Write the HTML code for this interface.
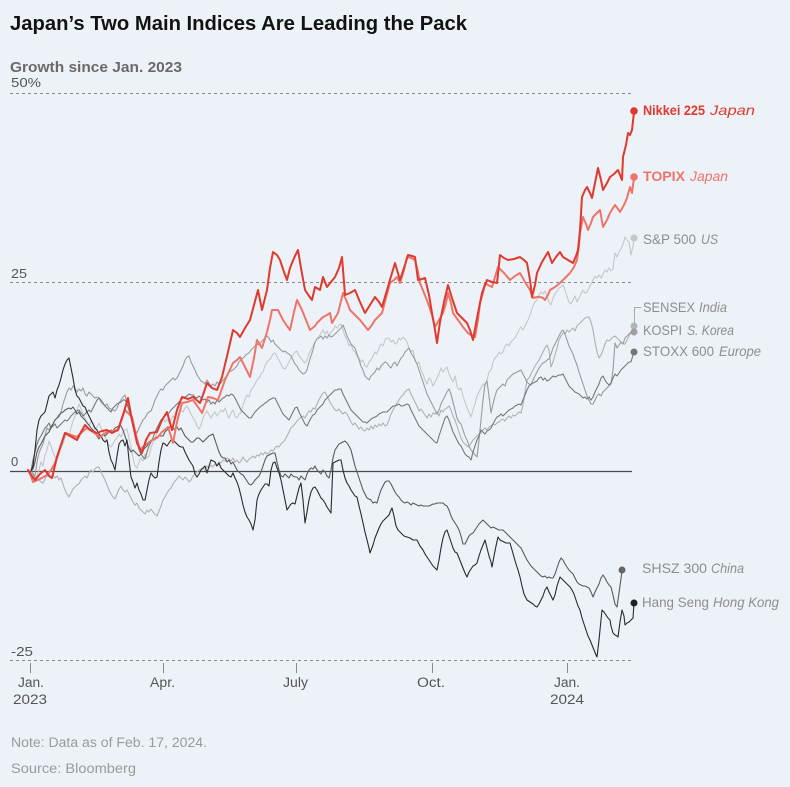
<!DOCTYPE html>
<html>
<head>
<meta charset="utf-8">
<style>
  html, body { margin: 0; padding: 0; background: #edf2f8; }
  svg { display: block; }
  text { font-family: "Liberation Sans", "DejaVu Sans", sans-serif; }
</style>
</head>
<body>
<svg width="790" height="787" viewBox="0 0 790 787" xmlns="http://www.w3.org/2000/svg">
  <rect x="0" y="0" width="790" height="787" fill="#edf2f8"/>

  <!-- Title / subtitle -->
  <text x="10" y="30" font-size="20" font-weight="bold" fill="#121212" textLength="457" lengthAdjust="spacingAndGlyphs">Japan’s Two Main Indices Are Leading the Pack</text>
  <text x="10" y="72" font-size="15" font-weight="bold" fill="#6a6a6a" textLength="172" lengthAdjust="spacingAndGlyphs">Growth since Jan. 2023</text>
  <text x="11" y="87" font-size="13" fill="#555" textLength="30" lengthAdjust="spacingAndGlyphs">50%</text>

  <!-- gridlines -->
  <g stroke="#8a8a8a" stroke-width="1" stroke-dasharray="3 3" fill="none">
    <line x1="10" y1="93.5" x2="632" y2="93.5"/>
    <line x1="10" y1="282.5" x2="632" y2="282.5"/>
    <line x1="10" y1="660.5" x2="632" y2="660.5"/>
  </g>
  <line x1="10" y1="471.5" x2="632" y2="471.5" stroke="#4a4a4a" stroke-width="1.2"/>

  <!-- y labels -->
  <text x="11" y="278" font-size="13" fill="#555" textLength="16" lengthAdjust="spacingAndGlyphs">25</text>
  <text x="11" y="466" font-size="13" fill="#555">0</text>
  <text x="11" y="656" font-size="13" fill="#555" textLength="22" lengthAdjust="spacingAndGlyphs">-25</text>

  <!-- x ticks -->
  <g stroke="#8a8a8a" stroke-width="1">
    <line x1="30.5" y1="663" x2="30.5" y2="673"/>
    <line x1="163.5" y1="663" x2="163.5" y2="673"/>
    <line x1="296.5" y1="663" x2="296.5" y2="673"/>
    <line x1="432.5" y1="663" x2="432.5" y2="673"/>
    <line x1="567.5" y1="663" x2="567.5" y2="673"/>
  </g>
  <g font-size="13.5" fill="#555">
    <text x="18" y="687" textLength="26" lengthAdjust="spacingAndGlyphs">Jan.</text>
    <text x="13" y="704" textLength="34" lengthAdjust="spacingAndGlyphs">2023</text>
    <text x="150" y="687" textLength="25" lengthAdjust="spacingAndGlyphs">Apr.</text>
    <text x="283" y="687" textLength="25" lengthAdjust="spacingAndGlyphs">July</text>
    <text x="417" y="687" textLength="28" lengthAdjust="spacingAndGlyphs">Oct.</text>
    <text x="554" y="687" textLength="26" lengthAdjust="spacingAndGlyphs">Jan.</text>
    <text x="550" y="704" textLength="34" lengthAdjust="spacingAndGlyphs">2024</text>
  </g>

  <!-- Notes -->
  <text x="11" y="747" font-size="13.5" fill="#9a9a9a" textLength="196" lengthAdjust="spacingAndGlyphs">Note: Data as of Feb. 17, 2024.</text>
  <text x="11" y="773" font-size="13.5" fill="#9a9a9a" textLength="125" lengthAdjust="spacingAndGlyphs">Source: Bloomberg</text>

  <g fill="none" stroke-linejoin="round" stroke-linecap="round">
    <!-- S&P 500 -->
    <polyline stroke="#c6c6c6" stroke-width="1.1" points="31,471 33,473 35,478 37,476 39,470 41,462 43,466 45,455 47,450 49,441 51,446 53,452 55,457 57,460 59,455 61,448 63,444 65,438 67,432 69,436 71,428 73,421 75,416 77,410 79,404 81,409 83,414 85,418 87,422 89,426 91,421 93,424 95,430 97,427 99,423 101,428 103,432 105,437 107,441 109,445 111,447 113,444 115,440 117,438 119,434 121,437 123,432 125,430 127,429 129,438 131,447 133,458 135,466 137,468 139,462 141,458 143,461 145,454 147,458 149,456 151,448 153,442 155,440 157,432 159,425 161,420 163,418 165,422 167,419 169,423 171,420 173,416 175,418 177,418 179,413 181,410 183,412 185,408 187,406 189,410 191,414 193,418 195,421 197,426 199,429 201,425 203,418 205,414 207,411 209,415 211,418 213,414 215,412 217,416 219,413 221,410 223,412 225,408 227,414 229,418 231,413 233,410 235,416 237,418 239,414 241,413 243,405 245,400 247,395 249,397 251,390 253,388 255,384 257,380 259,378 261,374 263,372 265,366 267,362 269,360 271,358 273,354 275,353 277,357 279,360 281,364 283,368 285,369 287,366 289,362 291,358 293,355 295,352 297,351 299,356 301,358 303,361 305,363 307,360 309,354 311,350 313,346 315,342 317,339 319,336 321,333 323,330 325,334 327,331 329,336 331,332 333,330 335,326 337,328 339,325 341,324 343,330 345,336 347,340 349,346 351,344 353,350 355,352 357,356 359,358 361,362 363,360 365,366 367,367 369,362 371,360 373,356 375,352 377,354 379,348 381,344 383,346 385,340 387,338 389,338 391,342 393,340 395,344 397,343 399,338 401,340 403,337 405,339 407,342 409,348 411,352 413,350 415,360 417,364 419,362 421,370 423,374 425,380 427,384 429,378 431,380 433,386 435,382 437,378 439,374 441,368 443,372 445,369 447,367 449,374 451,378 453,382 455,376 457,386 459,390 461,388 463,396 465,402 467,408 469,412 471,417 473,410 475,404 477,396 479,392 481,388 483,384 485,386 487,380 489,372 491,370 493,362 495,358 497,356 499,352 501,354 503,352 505,346 507,344 509,346 511,342 513,340 515,338 517,334 519,330 521,327 523,330 525,326 527,322 529,318 531,312 533,306 535,302 537,300 539,295 541,292 543,294 545,291 547,296 549,302 551,305 553,298 555,294 557,291 559,288 561,287 563,285 565,290 567,296 569,302 571,304 573,300 575,296 577,302 579,298 581,294 583,290 585,293 587,292 589,288 591,284 593,280 595,276 597,278 599,275 601,278 603,274 605,270 607,272 609,268 611,271 613,269 615,253 617,257 619,252 621,249 623,244 625,237 627,240 629,242 631,255 633,246 634,238"/>

    <!-- SENSEX -->
    <polyline stroke="#b0b0b0" stroke-width="1.1" points="31,471 33,474 35,478 37,476 39,480 41,482 43,483 45,479 47,476 49,474 51,477 53,475 55,478 57,476 59,480 61,478 63,484 65,490 67,494 69,497 71,493 73,489 75,487 77,485 79,484 81,480 83,478 85,476 87,478 89,473 91,470 93,472 95,469 97,467 99,467 101,472 103,476 105,480 107,485 109,490 111,494 113,497 115,499 117,494 119,489 121,486 123,490 125,492 127,490 129,494 131,498 133,502 135,505 137,503 139,508 141,510 143,512 145,514 147,510 149,512 151,509 153,512 155,514 157,516 159,511 161,506 163,500 165,497 167,493 169,490 171,488 173,484 175,481 177,479 179,476 181,478 183,480 185,477 187,479 189,482 191,480 193,476 195,474 197,472 199,470 201,469 203,468 205,470 207,466 209,468 211,465 213,467 215,464 217,466 219,462 221,463 223,460 225,461 227,458 229,459 231,461 233,458 235,462 237,460 239,463 241,461 243,457 245,460 247,462 249,459 251,458 253,456 255,458 257,455 259,456 261,453 263,455 265,452 267,454 269,453 271,450 273,451 275,448 277,446 279,447 281,444 283,442 285,440 287,436 289,432 291,428 293,426 295,424 297,421 299,419 301,417 303,416 305,418 307,414 309,411 311,412 313,408 315,409 317,404 319,400 321,396 323,393 325,392 327,396 329,400 331,404 333,407 335,410 337,411 339,409 341,412 343,414 345,412 347,414 349,418 351,422 353,425 355,423 357,426 359,429 361,427 363,430 365,431 367,428 369,430 371,426 373,429 375,425 377,427 379,424 381,426 383,423 385,426 387,425 389,420 391,414 393,410 395,406 397,403 399,400 401,397 403,395 405,392 407,390 409,389 411,394 413,398 415,402 417,406 419,411 421,409 423,412 425,415 427,418 429,414 431,417 433,413 435,414 437,412 439,416 441,410 443,412 445,409 447,408 449,406 451,410 453,416 455,420 457,426 459,432 461,438 463,442 465,444 467,446 469,447 471,443 473,440 475,438 477,436 479,434 481,433 483,430 485,428 487,430 489,427 491,426 493,424 495,425 497,423 499,422 501,420 503,419 505,421 507,418 509,416 511,418 513,415 515,416 517,414 519,412 521,413 523,405 525,392 527,380 529,378 531,374 533,370 535,366 537,363 539,360 541,356 543,352 545,348 547,345 549,350 551,367 553,362 555,355 557,348 559,340 561,336 563,333 565,334 567,330 569,332 571,330 573,328 575,331 577,326 579,324 581,322 583,320 585,318 587,317 589,317 591,322 593,330 595,342 597,352 599,358 601,355 603,350 605,344 607,340 609,341 611,339 613,337 615,336 617,338 619,340 621,342 623,344 625,344 627,340 629,336 631,332 634,326"/>

    <!-- KOSPI -->
    <polyline stroke="#9a9a9a" stroke-width="1.1" points="31,471 33,474 35,476 37,462 39,453 41,448 43,444 45,436 47,428 49,430 51,426 53,424 55,420 57,418 59,417 61,412 63,404 65,398 67,392 69,388 71,390 73,386 75,388 77,392 79,389 81,391 83,388 85,394 87,396 89,392 91,394 93,396 95,398 97,397 99,398 101,402 103,404 105,406 107,404 109,408 111,409 113,410 115,411 117,408 119,403 121,400 123,397 125,395 127,402 129,410 131,418 133,424 135,430 137,433 139,428 141,424 143,420 145,418 147,414 149,412 151,411 153,406 155,400 157,396 159,392 161,389 163,390 165,386 167,384 169,382 171,380 173,378 175,380 177,378 179,374 181,370 183,366 185,360 187,357 189,356 191,362 193,366 195,370 197,375 199,378 201,381 203,382 205,384 207,380 209,383 211,386 213,384 215,386 217,382 219,384 221,383 223,380 225,378 227,376 229,372 231,371 233,370 235,368 237,366 239,362 241,360 243,358 245,356 247,354 249,353 251,350 253,348 255,346 257,344 259,345 261,342 263,340 265,338 267,336 269,338 271,342 273,340 275,344 277,346 279,348 281,350 283,352 285,351 287,353 289,354 291,356 293,360 295,364 297,366 299,370 301,372 303,374 305,373 307,370 309,362 311,356 313,350 315,342 317,339 319,338 321,336 323,339 325,336 327,338 329,335 331,337 333,336 335,334 337,332 339,330 341,328 343,325 345,330 347,336 349,340 351,344 353,346 355,348 357,354 359,360 361,366 363,370 365,376 367,378 369,380 371,376 373,374 375,372 377,368 379,370 381,366 383,364 385,362 387,363 389,366 391,368 393,364 395,362 397,366 399,362 401,358 403,356 405,352 407,350 409,348 411,353 413,356 415,360 417,364 419,370 421,376 423,382 425,388 427,394 429,398 431,402 433,406 435,410 437,414 439,410 441,404 443,400 445,396 447,392 449,389 451,394 453,402 455,410 457,418 459,422 461,424 463,430 465,436 467,440 469,446 471,450 473,452 475,455 477,457 479,440 481,420 483,400 485,384 487,381 489,396 491,413 493,404 495,396 497,390 499,388 501,386 503,384 505,386 507,380 509,378 511,376 513,374 515,373 517,372 519,371 521,370 523,374 525,378 527,382 529,384 531,385 533,380 535,376 537,372 539,368 541,365 543,363 545,362 547,360 549,359 551,354 553,348 555,344 557,340 559,336 561,332 563,330 565,334 567,340 569,346 571,350 573,354 575,360 577,365 579,372 581,378 583,384 585,390 587,396 589,400 591,404 593,404 595,400 597,396 599,394 601,396 603,392 605,390 607,388 609,386 611,384 613,370 615,343 617,348 619,345 621,342 623,344 625,338 627,336 629,334 631,332 634,332"/>

    <!-- STOXX 600 -->
    <polyline stroke="#777" stroke-width="1.1" points="31,471 33,460 35,452 37,444 39,439 41,436 43,432 45,428 47,426 49,423 51,428 53,426 55,424 57,428 59,426 61,424 63,422 65,420 67,421 69,419 71,416 73,414 75,412 77,411 79,410 81,413 83,416 85,414 87,412 89,410 91,412 93,408 95,404 97,400 99,398 101,400 103,403 105,406 107,408 109,410 111,412 113,408 115,406 117,404 119,403 121,402 123,400 125,400 127,404 129,410 131,418 133,426 135,434 137,442 139,450 141,454 143,457 145,459 147,452 149,446 151,442 153,438 155,432 157,428 159,424 161,420 163,418 165,416 167,414 169,413 171,410 173,408 175,406 177,404 179,402 181,400 183,398 185,397 187,396 189,394 191,395 193,395 195,397 197,398 199,396 201,398 203,400 205,399 207,402 209,400 211,404 213,402 215,404 217,400 219,402 221,400 223,398 225,397 227,395 229,396 231,394 233,395 235,398 237,402 239,406 241,410 243,412 245,414 247,416 249,418 251,418 253,415 255,412 257,410 259,408 261,406 263,405 265,403 267,402 269,400 271,399 273,398 275,398 277,402 279,406 281,410 283,414 285,416 287,418 289,420 291,416 293,412 295,408 297,407 299,412 301,416 303,420 305,424 307,426 309,422 311,418 313,415 315,414 317,410 319,408 321,406 323,404 325,400 327,398 329,396 331,394 333,392 335,390 337,390 339,389 341,389 343,394 345,398 347,402 349,406 351,410 353,412 355,414 357,416 359,418 361,420 363,422 365,422 367,423 369,421 371,419 373,418 375,417 377,416 379,414 381,413 383,412 385,412 387,412 389,410 391,408 393,406 395,406 397,405 399,404 401,406 403,406 405,405 407,404 409,405 411,410 413,414 415,418 417,422 419,426 421,428 423,430 425,432 427,434 429,436 431,438 433,440 435,442 437,443 439,436 441,430 443,424 445,418 447,416 449,420 451,426 453,432 455,436 457,440 459,444 461,446 463,450 465,454 467,456 469,457 471,460 473,452 475,446 477,440 479,436 481,430 483,432 485,434 487,431 489,430 491,428 493,424 495,420 497,417 499,416 501,414 503,416 505,414 507,412 509,410 511,409 513,408 515,406 517,405 519,404 521,405 523,400 525,395 527,390 529,386 531,384 533,383 535,382 537,381 539,378 541,377 543,380 545,378 547,381 549,380 551,378 553,376 555,377 557,376 559,375 561,375 563,374 565,378 567,382 569,386 571,388 573,390 575,392 577,393 579,394 581,396 583,398 585,397 587,399 589,397 591,400 593,397 595,392 597,388 599,384 601,378 603,376 605,380 607,383 609,385 611,383 613,378 615,374 617,376 619,373 621,370 623,368 625,366 627,364 629,362 631,362 633,355 634,352"/>

    <!-- SHSZ 300 -->
    <polyline stroke="#5a5a5a" stroke-width="1.1" points="31,471 33,469 35,462 37,452 39,447 41,444 43,440 45,436 47,434 49,432 51,428 53,424 55,420 57,418 59,415 61,413 63,412 65,410 67,409 69,408 71,409 73,407 75,410 77,414 79,412 81,416 83,418 85,420 87,423 89,425 91,428 93,430 95,433 97,436 99,439 101,436 103,434 105,436 107,434 109,432 111,430 113,431 115,428 117,427 119,426 121,426 123,430 125,436 127,442 129,448 131,452 133,450 135,452 137,454 139,456 141,454 143,450 145,448 147,446 149,443 151,441 153,440 155,438 157,437 159,436 161,436 163,436 165,432 167,430 169,428 171,426 173,428 175,430 177,427 179,430 181,428 183,432 185,436 187,438 189,440 191,442 193,442 195,440 197,438 199,438 201,440 203,442 205,440 207,438 209,436 211,435 213,434 215,440 217,446 219,452 221,456 223,458 225,458 227,462 229,460 231,464 233,462 235,466 237,470 239,472 241,474 243,475 245,478 247,481 249,484 251,485 253,483 255,480 257,478 259,476 261,472 263,466 265,460 267,456 269,455 271,454 273,453 275,453 277,462 279,470 281,476 283,477 285,474 287,476 289,478 291,474 293,476 295,477 297,477 299,480 301,476 303,478 305,480 307,474 309,470 311,468 313,469 315,466 317,470 319,472 321,474 323,470 325,472 327,476 329,478 331,470 333,458 335,450 337,447 339,444 341,443 343,442 345,441 347,443 349,446 351,450 353,458 355,466 357,472 359,478 361,484 363,490 365,494 367,498 369,499 371,500 373,503 375,502 377,503 379,496 381,490 383,486 385,482 387,481 389,481 391,484 393,488 395,492 397,495 399,497 401,500 403,502 405,503 407,502 409,503 411,505 413,503 415,504 417,505 419,506 421,505 423,506 425,506 427,506 429,506 431,505 433,504 435,504 437,503 439,503 441,503 443,503 445,505 447,506 449,510 451,516 453,520 455,523 457,526 459,530 461,536 463,544 465,544 467,540 469,536 471,534 473,533 475,530 477,527 479,524 481,522 483,520 485,522 487,524 489,526 491,528 493,527 495,528 497,529 499,530 501,530 503,530 505,532 507,534 509,536 511,538 513,540 515,542 517,544 519,546 521,548 523,552 525,556 527,560 529,563 531,566 533,568 535,570 537,572 539,574 541,576 543,577 545,576 547,578 549,577 551,578 553,578 555,574 557,568 559,562 561,558 563,560 565,564 567,567 569,570 571,572 573,574 575,578 577,582 579,584 581,585 583,586 585,586 587,587 589,588 591,592 593,597 595,592 597,588 599,584 601,578 603,575 605,578 607,582 609,585 611,587 613,595 615,604 617,607 618,600 620,586 622,571"/>

    <!-- Hang Seng -->
    <polyline stroke="#2a2a2a" stroke-width="1.1" points="31,471 33,466 35,450 37,430 39,420 41,416 43,414 45,412 47,404 49,396 51,394 53,392 55,398 57,390 59,385 61,378 63,370 65,364 67,360 69,358 71,368 73,378 75,390 77,396 79,398 81,402 83,406 85,407 87,412 89,416 91,420 93,424 95,428 97,430 99,434 101,436 103,440 105,442 107,440 109,452 111,460 113,464 115,470 117,456 119,444 121,441 123,440 125,446 127,440 129,460 131,477 133,482 135,488 137,483 139,490 141,494 143,500 145,500 147,490 149,480 151,473 153,476 155,478 157,477 159,462 161,450 163,443 165,444 167,446 169,443 171,440 173,440 175,442 177,444 179,446 181,447 183,447 185,452 187,456 189,460 191,463 193,466 195,474 197,477 199,474 201,470 203,468 205,466 207,473 209,466 211,460 213,461 215,462 217,466 219,463 221,468 223,470 225,472 227,474 229,476 231,477 233,473 235,478 237,482 239,488 241,496 243,505 245,512 247,517 249,520 251,524 253,530 255,520 257,500 259,494 261,490 263,487 265,484 267,484 269,486 271,470 273,463 275,462 277,468 279,473 281,480 283,490 285,500 287,510 289,507 291,504 293,503 295,504 297,496 299,488 301,483 303,500 305,523 307,512 309,500 311,492 313,488 315,487 317,490 319,494 321,498 323,500 325,503 327,507 329,510 331,513 333,463 335,462 337,461 339,460 341,460 343,470 345,478 347,483 349,486 351,490 353,493 355,496 357,497 359,506 361,514 363,523 365,532 367,540 369,548 370,553 373,545 375,538 377,533 379,528 381,524 383,521 385,519 387,517 389,515 391,510 392,508 394,516 396,526 398,530 400,532 402,534 404,536 407,537 410,538 413,540 417,540 420,546 423,550 425,554 427,557 429,560 431,563 433,566 435,568 437,570 439,560 441,548 443,538 445,532 447,530 449,536 451,542 453,548 455,552 457,553 459,558 461,563 463,568 465,573 467,577 469,572 471,569 473,566 475,565 477,563 479,556 481,550 483,545 485,540 487,548 489,556 491,562 492,567 494,556 496,546 498,537 500,540 502,541 504,542 506,543 508,543 510,543 512,550 514,557 516,564 518,570 520,577 522,586 524,594 527,600 530,602 533,604 535,606 537,607 539,604 541,600 543,596 545,590 547,587 549,592 551,596 553,600 555,595 557,586 559,580 560,577 563,580 566,583 568,585 570,587 572,590 574,594 576,600 578,606 580,610 582,618 584,624 586,630 588,636 590,640 592,645 594,650 596,655 597,657 599,640 601,620 602,610 604,612 606,615 608,618 610,620 611,626 613,633 615,635 617,636 618,637 620,622 622,610 624,616 625,625 627,623 629,622 631,620 633,618 634,603"/>

    <!-- TOPIX -->
    <polyline stroke="#ef7468" stroke-width="2" points="28,470 31,476 33,482 40,479 47,475 51,470 55,463 60,448 65,433 71,435 77,437 82,432 87,428 93,432 100,437 104,434 107,432 113,431 118,430 122,418 125,410 128,413 132,417 136,435 140,450 144,446 148,443 152,440 157,438 162,432 168,427 173,443 177,422 182,403 187,402 193,400 198,407 202,413 205,405 208,397 213,398 218,400 225,380 233,363 237,360 240,357 245,367 250,377 254,358 257,340 262,348 267,332 270,320 272,310 275,310 278,310 283,320 287,326 290,330 294,312 297,300 302,310 306,320 310,330 315,326 317,323 320,320 323,317 327,315 330,313 332,323 335,318 338,313 343,293 347,302 350,310 355,315 360,320 364,325 368,330 372,325 375,320 379,316 382,313 386,298 390,283 394,280 397,277 400,283 404,270 407,257 411,258 415,260 418,272 420,283 424,293 428,303 432,315 435,327 439,320 443,313 446,303 448,293 451,303 453,313 458,320 463,327 468,333 471,335 475,337 478,320 480,303 483,293 485,283 488,285 492,287 495,277 498,267 504,273 510,280 515,276 520,273 525,282 530,290 533,298 537,297 540,297 543,298 545,300 548,295 550,290 555,287 560,283 565,278 570,273 574,267 577,260 579,245 580,233 583,217 586,224 588,230 591,223 593,217 597,213 600,210 603,227 607,220 610,213 613,208 615,205 618,209 620,212 624,205 627,198 630,187 632,193 634,178"/>

    <!-- Nikkei 225 -->
    <polyline stroke="#e0392d" stroke-width="2" points="28,470 32,476 35,480 40,474 45,470 49,476 52,478 57,457 61,445 65,433 70,436 77,440 81,432 85,425 90,430 97,433 102,431 107,430 112,433 118,430 123,415 128,398 132,420 137,443 142,453 146,440 150,433 157,432 162,420 167,412 172,430 177,410 182,397 188,399 193,397 200,403 204,392 207,383 212,388 217,390 222,377 228,352 233,330 237,333 240,337 245,328 250,320 254,305 258,290 262,310 265,298 267,290 270,268 273,252 277,255 280,260 284,272 287,280 290,268 292,263 295,256 298,250 301,268 305,290 309,296 312,300 315,287 320,290 323,277 327,287 331,282 335,277 339,268 342,257 345,295 350,293 355,290 360,302 365,313 370,305 375,297 379,302 382,307 387,290 392,273 395,263 400,280 404,268 408,255 412,256 415,257 418,280 422,279 425,278 429,295 432,313 435,330 437,343 440,322 444,302 448,285 452,298 457,313 462,318 467,323 470,330 473,340 477,318 482,293 487,280 492,282 497,283 500,255 504,258 508,260 514,259 520,257 524,260 527,263 530,280 532,297 535,285 537,273 542,262 548,252 552,263 556,257 560,252 563,257 568,260 573,263 576,256 578,250 580,230 582,197 585,190 587,187 590,193 592,198 595,183 598,168 601,180 603,190 607,183 610,177 614,174 618,170 620,175 622,180 623,157 626,145 628,133 630,135 632,130 634,112"/>
  </g>

  <!-- SENSEX leader line -->
  <polyline points="634.5,325 634.5,307.5 641,307.5" fill="none" stroke="#aaa" stroke-width="1"/>

  <!-- end dots -->
  <circle cx="634" cy="111" r="3.8" fill="#e0392d"/>
  <circle cx="634" cy="177" r="3.8" fill="#ef7468"/>
  <circle cx="634" cy="238" r="3.5" fill="#c6c6c6"/>
  <circle cx="634" cy="326" r="3.5" fill="#b4b4b4"/>
  <circle cx="634" cy="332" r="3.5" fill="#a0a0a0"/>
  <circle cx="634" cy="352" r="3.5" fill="#777"/>
  <circle cx="622" cy="570" r="3.5" fill="#666"/>
  <circle cx="634" cy="603" r="3.5" fill="#222"/>

  <!-- labels -->
  <text x="643" y="115" font-size="14" font-weight="bold" fill="#e0392d" textLength="62" lengthAdjust="spacingAndGlyphs">Nikkei 225</text>
  <text x="710" y="115" font-size="14" font-style="italic" fill="#e0392d" textLength="45" lengthAdjust="spacingAndGlyphs">Japan</text>

  <text x="643" y="181" font-size="14" font-weight="bold" fill="#ef7468" textLength="42" lengthAdjust="spacingAndGlyphs">TOPIX</text>
  <text x="690" y="181" font-size="14" font-style="italic" fill="#ef7468" textLength="38" lengthAdjust="spacingAndGlyphs">Japan</text>

  <g font-size="14" fill="#8e8e8e">
    <text x="643" y="244" textLength="53" lengthAdjust="spacingAndGlyphs">S&amp;P 500</text>
    <text x="701" y="244" font-style="italic" textLength="17" lengthAdjust="spacingAndGlyphs">US</text>

    <text x="643" y="312" textLength="52" lengthAdjust="spacingAndGlyphs">SENSEX</text>
    <text x="699" y="312" font-style="italic" textLength="28" lengthAdjust="spacingAndGlyphs">India</text>

    <text x="643" y="335" textLength="39" lengthAdjust="spacingAndGlyphs">KOSPI</text>
    <text x="687" y="335" font-style="italic" textLength="47" lengthAdjust="spacingAndGlyphs">S. Korea</text>

    <text x="643" y="356" textLength="71" lengthAdjust="spacingAndGlyphs">STOXX 600</text>
    <text x="719" y="356" font-style="italic" textLength="42" lengthAdjust="spacingAndGlyphs">Europe</text>

    <text x="642" y="573" textLength="65" lengthAdjust="spacingAndGlyphs">SHSZ 300</text>
    <text x="711" y="573" font-style="italic" textLength="33" lengthAdjust="spacingAndGlyphs">China</text>

    <text x="642" y="607" textLength="67" lengthAdjust="spacingAndGlyphs">Hang Seng</text>
    <text x="713" y="607" font-style="italic" textLength="66" lengthAdjust="spacingAndGlyphs">Hong Kong</text>
  </g>
</svg>
</body>
</html>
